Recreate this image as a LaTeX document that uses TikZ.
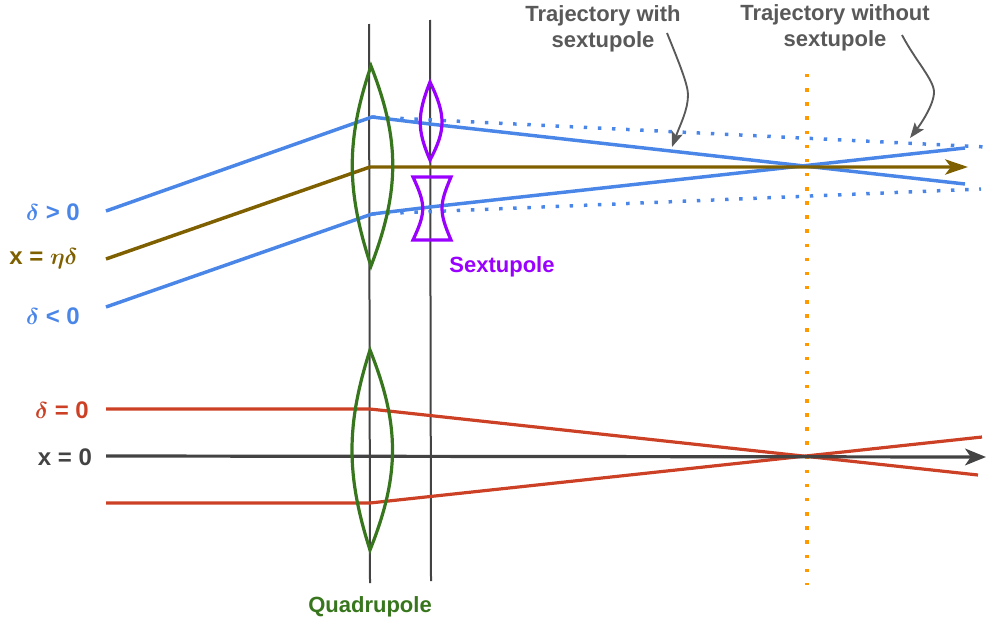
\documentclass[tikz,border=0pt]{standalone}
\usepackage{amsmath}
\usepackage{fontspec}
\setmainfont{Liberation Sans}
\usetikzlibrary{arrows.meta, positioning}
\definecolor{beamblue}{HTML}{4A86E8}
\definecolor{dispbrown}{HTML}{7F6000}
\definecolor{focusred}{HTML}{CC4125}
\definecolor{quadgreen}{HTML}{38761D}
\definecolor{sextpurple}{HTML}{9900FF}
\definecolor{darkline}{HTML}{434343}
\definecolor{notegray}{HTML}{595959}
\definecolor{focusorange}{HTML}{FF9900}

\begin{document}
\begin{tikzpicture}[
    x=0.75pt, y=-0.75pt,
    axisline/.style={draw=darkline, line width=1.5pt},
    beamline/.style={draw=beamblue, line width=2.6pt},
    brownline/.style={draw=dispbrown, line width=2.6pt, -{Stealth[length=6mm, width=4mm, inset=1.5mm]}},
    redline/.style={draw=focusred, line width=2.4pt},
    dotline/.style={draw=beamblue, line width=2.6pt, dash pattern=on 2.6pt off 8pt},
    lens/.style={draw=quadgreen, line width=2.4pt},
    sextlens/.style={draw=sextpurple, line width=2.4pt},
    notearrow/.style={draw=notegray, line width=1.4pt, -{Stealth[length=4mm, width=3mm, inset=0.8mm]}},
    textlabel/.style={font=\bfseries\fontsize{16.5pt}{19.5pt}\selectfont, inner sep=0pt, align=center},
    sidelabel/.style={font=\bfseries\fontsize{18pt}{20pt}\selectfont, inner sep=0pt}
]
    \useasboundingbox (0,0) rectangle (987,621);

    % named points along the beams
    \coordinate (upStart) at (106,211);
    \coordinate (upKick) at (372,117);
    \coordinate (midStart) at (106,259);
    \coordinate (midKick) at (370,167);
    \coordinate (lowStart) at (106,307);
    \coordinate (lowKick) at (372,214);
    \coordinate (upSext) at (430,124);
    \coordinate (lowSext) at (430,207);
    \coordinate (upEnd) at (965,184);
    \coordinate (lowEnd) at (965,148);
    \coordinate (upDotEnd) at (986,147);
    \coordinate (lowDotEnd) at (981,189);
    \coordinate (midEnd) at (968,167);
    \coordinate (redUpStart) at (106,409);
    \coordinate (redUpKick) at (370,409);
    \coordinate (redUpEnd) at (978,475);
    \coordinate (redLowStart) at (106,503);
    \coordinate (redLowKick) at (370,503);
    \coordinate (redLowEnd) at (982,437);
    \coordinate (axisStart) at (106,456);
    \coordinate (axisEnd) at (986,457);

    % vertical lines
    \coordinate (quadTop) at (369,24);
    \coordinate (quadBottom) at (370,583);
    \coordinate (sextTop) at (430,20);
    \coordinate (sextBottom) at (431,581);
    \coordinate (focusTop) at (807,74);
    \coordinate (focusBottom) at (807,585);
    \draw[axisline] (quadTop) -- (quadBottom);
    \draw[axisline] (sextTop) -- (sextBottom);
    \draw[draw=focusorange, line width=2.6pt, dash pattern=on 2.6pt off 8pt] (focusTop) -- (focusBottom);

    % beams
    \draw[dotline] (upKick) -- (upDotEnd);
    \draw[dotline] (lowKick) -- (lowDotEnd);
    \draw[beamline] (upStart) -- (upKick) -- (upSext) -- (upEnd);
    \draw[beamline] (lowStart) -- (lowKick) -- (lowSext) -- (lowEnd);
    \draw[brownline] (midStart) -- (midKick) -- (midEnd);
    \draw[redline] (redUpStart) -- (redUpKick) -- (redUpEnd);
    \draw[redline] (redLowStart) -- (redLowKick) -- (redLowEnd);
    \draw[draw=darkline, line width=2.4pt, -{Stealth[length=5.5mm, width=4.4mm, inset=1.5mm]}] (axisStart) -- (axisEnd);

    % lenses
    \draw[lens] (371,66) .. controls (346,140) and (346,190) .. (371,266)
        .. controls (400,190) and (400,140) .. (371,66) -- cycle;
    \draw[lens] (370,350) .. controls (346,425) and (346,475) .. (370,550)
        .. controls (400,475) and (400,425) .. (370,350) -- cycle;
    \draw[sextlens] (430,82) .. controls (417,115) and (417,130) .. (430,160)
        .. controls (446,130) and (446,115) .. (430,82) -- cycle;
    \draw[sextlens] (413,177) -- (451,177) .. controls (439,205) and (439,212) .. (451,240)
        -- (413,240) .. controls (426,212) and (426,205) .. (413,177) -- cycle;

    % labels
    \node[sidelabel, text=beamblue] (deltaPlus) at (53,212) {$\boldsymbol{\delta}$ > 0};
    \node[sidelabel, text=dispbrown] (etaDelta) at (43.5,259) {x = $\boldsymbol{\eta\delta}$};
    \node[sidelabel, text=beamblue] (deltaMinus) at (53,316) {$\boldsymbol{\delta}$ < 0};
    \node[sidelabel, text=focusred] (deltaZero) at (62,410) {$\boldsymbol{\delta}$ = 0};
    \node[sidelabel, text=darkline] (xZero) at (65,457) {x = 0};
    \node[textlabel, text=sextpurple] (sextLabel) at (502,267) {Sextupole};
    \node[textlabel, text=quadgreen] (quadLabel) at (370,607) {Quadrupole};
    \node[textlabel, text=notegray] (withLabel) at (603,29) {Trajectory with\\sextupole};
    \node[textlabel, text=notegray] (withoutLabel) at (835,28) {Trajectory without\\sextupole};

    % note arrows
    \coordinate (withFrom) at (667,33);
    \coordinate (withTo) at (672,147);
    \coordinate (withoutFrom) at (902,35);
    \coordinate (withoutTo) at (910,138);
    \draw[notearrow] (withFrom) .. controls (680,65) and (688,85) .. (688,95) .. controls (688,110) and (680,125) .. (withTo);
    \draw[notearrow] (withoutFrom) .. controls (915,60) and (934,80) .. (934,92) .. controls (934,105) and (920,125) .. (withoutTo);
\end{tikzpicture}
\end{document}
